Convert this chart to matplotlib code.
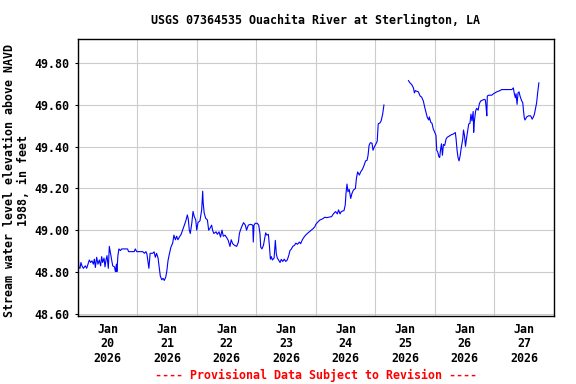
import numpy as np
import matplotlib
matplotlib.use("Agg")
import matplotlib.pyplot as plt
import matplotlib.dates as mdates

# hours since 2026-01-20 00:00 and water level (ft)
hours = [0.0, 0.3, 0.8, 1.2, 1.6, 2.15, 2.96, 3.5, 4.03, 4.57, 5.1, 5.65, 6.19, 6.6, 7.0,
         7.53, 8.07, 8.6, 9.14, 9.55, 9.95, 10.5, 10.9, 11.3, 11.7, 12.24, 12.64, 13.3,
         14.0, 14.7, 15.1, 15.5, 15.7, 16.1, 16.5, 17.1, 17.6, 20.0, 20.4, 22.7, 23.1,
         23.7, 26.1, 26.8, 27.4, 27.8, 28.2, 28.6, 29.1, 30.1, 30.7, 31.2, 31.7, 32.3,
         32.8, 33.2, 33.8, 34.3, 34.8, 35.4, 35.8, 36.3, 36.8, 37.5, 38.2, 38.7, 39.3,
         39.8, 40.3, 40.9, 41.6, 42.2, 42.9, 43.6, 44.1, 44.5, 44.9, 45.3, 45.9, 46.4,
         46.9, 47.5, 47.9, 48.4, 49.2, 49.9, 50.3, 50.5, 50.9, 51.5, 52.2, 52.7, 53.2,
         53.9, 54.3, 54.8, 55.7, 56.2, 56.9, 57.5, 58.1, 58.6, 59.3, 60.0, 60.6, 61.3,
         61.8, 62.4, 63.2, 64.0, 64.7, 65.1, 65.6, 66.3, 66.8, 67.5, 68.0, 68.7, 69.6,
         70.5, 70.7, 71.0, 71.5, 72.3, 72.9, 73.4, 73.7, 74.2, 74.8, 75.3, 75.7, 76.2,
         76.8, 77.2, 77.6, 78.0, 78.4, 79.1, 79.6, 80.0, 80.4, 80.9, 81.5, 82.0, 82.6,
         83.2, 83.8, 84.4, 85.0, 85.5, 86.1, 86.6, 87.3, 87.9, 88.5, 89.3, 89.8, 90.5,
         91.2, 91.8, 92.5, 93.3, 94.1, 94.9, 95.5, 96.0, 96.9, 97.6, 98.3, 99.0, 99.6,
         100.3, 102.3, 103.0, 103.9, 104.6, 105.1, 105.7, 106.2, 107.3, 107.8, 108.1,
         108.5, 108.9, 109.4, 110.0, 110.5, 111.1, 111.9, 112.3, 112.8, 113.5, 114.0,
         114.7, 115.4, 116.0, 116.6, 117.0, 117.4, 117.9, 118.6, 119.0, 119.5, 120.2,
         120.7, 121.1, 121.8, 122.3, 122.9, 123.4,
         128.0,
         133.3, 133.9, 134.6, 135.3, 135.7, 136.1, 136.6, 137.3, 138.0, 138.6, 139.3,
         139.9, 140.4, 140.9, 141.5, 141.7, 142.3, 142.8, 143.3, 143.9, 144.4, 144.7,
         145.1, 145.5, 145.9, 146.2, 146.6, 147.0, 147.4, 147.9, 148.5, 149.0, 149.5,
         150.1, 150.7, 151.4, 152.2, 152.5, 152.9, 153.3, 153.7, 154.1, 154.6, 155.2,
         155.5, 155.9, 156.3, 156.7, 157.2, 157.6, 158.1, 158.5, 158.9, 159.4, 159.6,
         159.9, 160.4, 160.8, 161.4, 161.9, 162.4, 163.0, 163.8, 164.3, 164.6, 164.9,
         165.1, 165.7, 166.9, 167.6, 168.9, 170.2, 170.9, 172.9, 175.0, 175.6, 176.0,
         176.4, 176.7, 177.1, 177.5, 177.9, 178.3, 178.9, 179.4, 179.7, 180.0, 180.3,
         181.0, 181.7, 182.6, 183.2, 183.7, 184.1, 184.6, 185.0, 185.4, 185.9]

level = [48.913, 48.822, 48.817, 48.845, 48.829, 48.817, 48.829, 48.817, 48.837, 48.857,
         48.845, 48.853, 48.837, 48.861, 48.821, 48.870, 48.837, 48.857, 48.829, 48.873,
         48.845, 48.866, 48.824, 48.857, 48.878, 48.817, 48.922, 48.878, 48.829, 48.824,
         48.801, 48.837, 48.801, 48.878, 48.910, 48.902, 48.910, 48.910, 48.897, 48.897,
         48.910, 48.897, 48.897, 48.889, 48.897, 48.886, 48.853, 48.817, 48.889, 48.889,
         48.896, 48.870, 48.889, 48.866, 48.817, 48.780, 48.762, 48.769, 48.759, 48.775,
         48.801, 48.853, 48.883, 48.919, 48.938, 48.976, 48.954, 48.971, 48.954, 48.967,
         48.980, 49.000, 49.024, 49.049, 49.073, 49.052, 49.000, 48.984, 49.033, 49.090,
         49.065, 49.049, 49.000, 49.036, 49.045, 49.098, 49.187, 49.130, 49.082, 49.057,
         49.049, 49.000, 49.008, 49.024, 49.000, 48.984, 48.992, 48.980, 48.992, 48.967,
         49.000, 48.971, 48.976, 48.964, 48.951, 48.922, 48.954, 48.935, 48.927, 48.922,
         48.943, 48.984, 49.003, 49.024, 49.036, 49.024, 49.000, 49.024, 49.028, 49.024,
         48.943, 49.024, 49.033, 49.033, 49.024, 48.984, 48.919, 48.910, 48.927, 48.959,
         48.987, 48.976, 48.980, 48.927, 48.861, 48.873, 48.857, 48.866, 48.951, 48.886,
         48.866, 48.857, 48.845, 48.860, 48.850, 48.861, 48.850, 48.857, 48.878, 48.902,
         48.910, 48.922, 48.927, 48.938, 48.932, 48.943, 48.935, 48.954, 48.967, 48.976,
         48.984, 48.992, 49.000, 49.008, 49.016, 49.029, 49.041, 49.049, 49.052, 49.057,
         49.062, 49.060, 49.065, 49.078, 49.089, 49.078, 49.097, 49.078, 49.089, 49.094,
         49.121, 49.176, 49.221, 49.184, 49.195, 49.152, 49.176, 49.192, 49.200, 49.248,
         49.279, 49.264, 49.279, 49.291, 49.311, 49.332, 49.335, 49.359, 49.406, 49.419,
         49.417, 49.383, 49.398, 49.414, 49.427, 49.510, 49.514, 49.525, 49.557, 49.600,
         np.nan,
         49.717, 49.706, 49.698, 49.682, 49.658, 49.669, 49.666, 49.663, 49.643, 49.638,
         49.619, 49.587, 49.564, 49.540, 49.528, 49.543, 49.517, 49.512, 49.485, 49.469,
         49.454, 49.383, 49.375, 49.354, 49.348, 49.383, 49.414, 49.359, 49.411, 49.406,
         49.438, 49.446, 49.449, 49.454, 49.458, 49.461, 49.468, 49.438, 49.383, 49.348,
         49.332, 49.354, 49.395, 49.438, 49.480, 49.454, 49.402, 49.438, 49.477, 49.509,
         49.512, 49.556, 49.524, 49.569, 49.469, 49.524, 49.572, 49.584, 49.575, 49.606,
         49.619, 49.622, 49.627, 49.625, 49.591, 49.548, 49.643, 49.647, 49.647, 49.654,
         49.663, 49.669, 49.674, 49.674, 49.674, 49.682, 49.654, 49.635, 49.654, 49.603,
         49.658, 49.663, 49.643, 49.622, 49.611, 49.572, 49.540, 49.528, 49.543, 49.548,
         49.548, 49.532, 49.543, 49.556, 49.587, 49.611, 49.658, 49.706]

title = "USGS 07364535 Ouachita River at Sterlington, LA"
ylabel = "Stream water level elevation above NAVD\n1988, in feet"
footer = "---- Provisional Data Subject to Revision ----"

start = np.datetime64("2026-01-20T00:00")
t = start + (np.array(hours) * 60).round().astype(int).astype("timedelta64[m]")
t = t.astype("datetime64[ms]").astype(object)

font = {"family": "DejaVu Sans Mono", "weight": "bold", "size": 8.4}

fig = plt.figure(figsize=(5.76, 3.84), dpi=100)
ax = fig.add_axes([0.1354, 0.1779, 0.8264, 0.7198])

ax.plot(t, level, color="#0000ff", lw=0.8)

ax.set_xlim(start.astype("datetime64[ms]").astype(object),
            (start + np.timedelta64(8, "D")).astype("datetime64[ms]").astype(object))
ax.set_ylim(48.59, 49.915)

ax.xaxis.set_major_locator(mdates.HourLocator(byhour=12))
ax.xaxis.set_major_formatter(mdates.DateFormatter("%b\n%d\n%Y"))
ax.xaxis.set_minor_locator(mdates.DayLocator())
ax.set_yticks(np.arange(48.6, 49.81, 0.2))
ax.set_yticklabels(["%.2f" % v for v in np.arange(48.6, 49.81, 0.2)])

ax.grid(which="minor", axis="x", color="#cccccc", lw=0.8)
ax.grid(which="major", axis="y", color="#cccccc", lw=0.8)
ax.set_axisbelow(True)

ax.tick_params(axis="x", which="both", length=0, pad=5)
ax.tick_params(axis="y", length=2.5, width=0.8, pad=4)
for lab in ax.get_xticklabels() + ax.get_yticklabels():
    lab.set_fontfamily("DejaVu Sans Mono")
    lab.set_fontweight("bold")
    lab.set_fontsize(8.4)
    lab.set_linespacing(1.15)

for s in ax.spines.values():
    s.set_linewidth(1.0)

fig.text(0.548, 0.948, title, ha="center", va="center", **font)
fig.text(0.029, 0.53, ylabel, ha="center", va="center", rotation=90,
         multialignment="center", linespacing=1.1, **font)
fig.text(0.548, 0.023, footer, ha="center", va="center", color="red", **font)

fig.savefig("out.png", dpi=100)
